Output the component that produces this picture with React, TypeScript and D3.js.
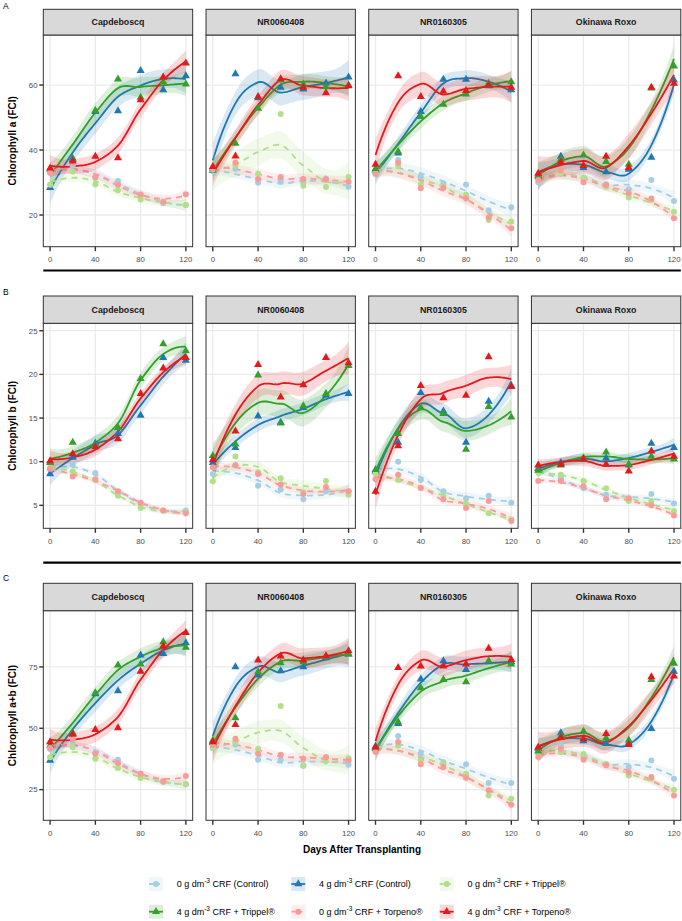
import React, { useEffect, useRef } from "react";
import * as d3 from "d3";

// sampling days and facets
const days = [0, 20, 40, 60, 80, 100, 120];
const cultivars = ["Capdeboscq", "NR0060408", "NR0160305", "Okinawa Roxo"];
const xTicks = [0, 40, 80, 120];

// treatments: [before superscript, after superscript]
const treatmentLabels = [
  ["0 g dm", " CRF (Control)"],
  ["4 g dm", " CRF (Control)"],
  ["0 g dm", " CRF + Trippel®"],
  ["4 g dm", " CRF + Trippel®"],
  ["0 g dm", " CRF + Torpeno®"],
  ["4 g dm", " CRF + Torpeno®"],
];
const treatmentColors = ["#a6cee3", "#1f78b4", "#b2df8a", "#33a02c", "#fb9a99", "#e31a1c"];
const treatmentDose = [0, 4, 0, 4, 0, 4];

// chlorophyll a, one row per cultivar
const chlA_0gControl = [
  [33.0, 35.2, 31.5, 30.5, 26.0, 23.6, 23.1],
  [33.5, 34.2, 29.9, 30.2, 30.0, 31.2, 28.7],
  [32.8, 36.9, 31.8, 29.7, 29.4, 21.5, 22.4],
  [30.0, 33.5, 31.3, 29.5, 27.9, 30.8, 24.3],
];
const chlA_4gControl = [
  [28.4, 37.4, 51.8, 52.0, 64.4, 58.5, 62.8],
  [33.7, 63.4, 56.0, 59.3, 58.7, 60.6, 62.4],
  [33.8, 39.0, 51.8, 61.7, 61.7, 59.7, 58.5],
  [32.3, 38.0, 34.6, 33.3, 34.0, 37.7, 61.5],
];
const chlA_0gTrippel = [
  [29.3, 33.4, 29.4, 27.6, 24.8, 24.0, 23.1],
  [34.0, 35.3, 32.7, 51.1, 29.0, 28.6, 31.7],
  [33.3, 35.0, 29.5, 28.9, 26.2, 18.5, 18.0],
  [31.3, 32.8, 31.5, 28.7, 25.4, 24.6, 21.0],
];
const chlA_4gTrippel = [
  [34.0, 37.0, 52.1, 61.8, 56.2, 61.0, 60.3],
  [34.4, 42.0, 52.8, 61.5, 60.3, 59.5, 60.0],
  [34.2, 39.5, 50.3, 54.0, 57.2, 60.5, 61.0],
  [31.8, 37.1, 38.4, 36.4, 35.6, 59.0, 65.8],
];
const chlA_0gTorpeno = [
  [33.0, 36.0, 31.7, 29.3, 26.3, 24.1, 26.4],
  [34.3, 36.2, 31.1, 31.7, 31.1, 30.9, 30.2],
  [32.6, 36.1, 28.2, 28.4, 25.1, 19.2, 15.9],
  [30.8, 33.8, 30.1, 29.2, 26.7, 25.1, 19.0],
];
const chlA_4gTorpeno = [
  [34.4, 36.6, 38.0, 37.6, 55.4, 62.4, 66.7],
  [34.9, 38.1, 56.4, 61.9, 59.3, 57.6, 59.7],
  [35.6, 62.8, 56.4, 58.0, 58.3, 60.0, 59.3],
  [32.8, 36.3, 35.2, 38.0, 34.6, 59.3, 60.5],
];

// chlorophyll b
const chlB_0gControl = [
  [9.1, 9.65, 8.7, 6.5, 5.2, 4.4, 4.4],
  [8.6, 9.6, 7.25, 6.8, 5.7, 6.6, 6.6],
  [8.8, 10.0, 7.9, 6.6, 5.8, 6.1, 5.3],
  [9.0, 8.1, 6.95, 6.2, 5.7, 6.3, 5.2],
];
const chlB_4gControl = [
  [8.6, 10.5, 12.1, 13.2, 15.3, 21.9, 21.6],
  [9.9, 11.6, 15.2, 14.5, 16.2, 17.6, 17.8],
  [8.9, 12.2, 17.9, 15.8, 12.2, 16.9, 18.7],
  [9.2, 9.9, 10.3, 10.4, 9.6, 12.1, 11.6],
];
const chlB_0gTrippel = [
  [9.3, 8.9, 7.9, 6.1, 4.7, 4.4, 4.2],
  [7.75, 10.6, 8.8, 8.1, 6.5, 7.8, 6.2],
  [8.6, 7.9, 7.0, 6.1, 5.2, 4.1, 3.4],
  [8.7, 8.5, 7.8, 6.95, 5.5, 5.5, 4.35],
];
const chlB_4gTrippel = [
  [9.9, 12.2, 11.9, 13.9, 19.5, 23.5, 22.7],
  [10.7, 12.0, 19.9, 14.4, 16.4, 17.8, 21.0],
  [9.1, 13.2, 16.2, 15.5, 11.4, 16.3, 15.1],
  [9.0, 9.6, 10.4, 11.1, 9.7, 10.6, 10.3],
];
const chlB_0gTorpeno = [
  [9.2, 8.3, 8.0, 6.6, 5.3, 4.4, 4.1],
  [9.35, 9.6, 8.6, 7.4, 6.3, 7.1, 6.6],
  [8.0, 8.5, 7.0, 5.7, 4.7, 5.5, 3.2],
  [7.8, 7.8, 7.2, 5.7, 5.8, 5.0, 3.85],
];
const chlB_4gTorpeno = [
  [10.1, 10.9, 11.7, 12.6, 17.8, 20.7, 21.9],
  [10.2, 13.5, 21.1, 17.4, 18.8, 21.9, 21.3],
  [6.6, 11.8, 18.7, 17.3, 17.6, 22.0, 18.6],
  [9.6, 9.7, 10.3, 9.7, 8.9, 11.2, 10.6],
];

// chlorophyll a+b
const chlAB_0gControl = [
  [41.6, 44.3, 40.0, 37.2, 30.8, 28.1, 27.2],
  [41.9, 43.4, 37.2, 37.2, 34.9, 38.2, 35.1],
  [41.5, 46.8, 39.6, 36.2, 35.3, 27.7, 27.7],
  [39.6, 43.0, 38.3, 35.3, 34.2, 36.9, 29.4],
];
const chlAB_4gControl = [
  [36.9, 47.8, 64.0, 65.2, 79.8, 80.4, 84.8],
  [44.0, 75.0, 71.6, 73.4, 75.0, 78.7, 80.2],
  [42.6, 51.9, 70.0, 77.4, 73.9, 77.0, 77.0],
  [41.7, 48.1, 44.8, 43.7, 44.0, 49.8, 73.2],
];
const chlAB_0gTrippel = [
  [38.2, 42.3, 37.6, 33.8, 29.7, 28.2, 27.2],
  [42.3, 44.3, 41.5, 59.1, 34.6, 36.5, 37.8],
  [41.0, 43.0, 36.9, 35.3, 31.5, 22.6, 21.3],
  [40.3, 40.3, 39.4, 35.3, 30.8, 29.4, 24.9],
];
const chlAB_4gTrippel = [
  [43.0, 48.1, 64.4, 75.7, 76.1, 85.2, 82.9],
  [45.0, 54.2, 73.0, 76.6, 77.0, 79.1, 80.2],
  [41.7, 52.6, 66.4, 69.8, 68.9, 77.4, 76.1],
  [40.7, 46.7, 48.7, 46.0, 45.1, 69.8, 76.4],
];
const chlAB_0gTorpeno = [
  [42.0, 45.4, 39.6, 35.8, 31.5, 28.4, 30.5],
  [43.2, 45.7, 39.6, 39.2, 37.6, 38.2, 36.9],
  [40.3, 44.4, 35.3, 34.2, 29.8, 24.7, 18.8],
  [38.3, 41.7, 37.2, 34.9, 32.1, 30.1, 22.6],
];
const chlAB_4gTorpeno = [
  [44.4, 47.5, 49.4, 50.1, 73.2, 83.4, 88.9],
  [44.4, 51.5, 77.7, 79.4, 77.7, 79.5, 81.5],
  [42.3, 74.7, 75.3, 75.3, 76.1, 82.5, 78.0],
  [42.3, 46.2, 45.7, 47.8, 43.3, 70.9, 71.2],
];

const panels = [
  {
    tag: "A", title: "Chlorophyll a (FCI)",
    series: [chlA_0gControl, chlA_4gControl, chlA_0gTrippel, chlA_4gTrippel, chlA_0gTorpeno, chlA_4gTorpeno],
    domain: [10.25, 75.4], yTicks: [20, 40, 60],
    tagY: 8.5, stripTop: 9.3, plotTop: 35, plotBottom: 246.7, ruleY: 270.5,
  },
  {
    tag: "B", title: "Chlorophyll b (FCI)",
    series: [chlB_0gControl, chlB_4gControl, chlB_0gTrippel, chlB_4gTrippel, chlB_0gTorpeno, chlB_4gTorpeno],
    domain: [2.37, 25.85], yTicks: [5, 10, 15, 20, 25],
    tagY: 295, stripTop: 296, plotTop: 323.3, plotBottom: 528.3, ruleY: 562.7,
  },
  {
    tag: "C", title: "Chlorophyll a+b (FCI)",
    series: [chlAB_0gControl, chlAB_4gControl, chlAB_0gTrippel, chlAB_4gTrippel, chlAB_0gTorpeno, chlAB_4gTorpeno],
    domain: [12.5, 97.9], yTicks: [25, 50, 75],
    tagY: 580.7, stripTop: 583.3, plotTop: 610.7, plotBottom: 820.3, ruleY: null,
  },
];

// ---- loess (span 0.75, degree 2, kd-tree vertices + hermite, like R) ----
// the plotted points are means of replicates; the smoother is fitted as if
// each mean stood for REPS plants, with a small within-plant spread.
const SPAN = 0.75;
const REPS = 4;
const WITHIN_CV = 0.06;

function invert(A: number[][]) {
  const n = A.length;
  const M = A.map((r, i) => [...r, ...r.map((_, j) => (i === j ? 1 : 0))]);
  for (let c = 0; c < n; c++) {
    let p = c;
    for (let r = c + 1; r < n; r++) if (Math.abs(M[r][c]) > Math.abs(M[p][c])) p = r;
    [M[c], M[p]] = [M[p], M[c]];
    const d = M[c][c];
    for (let j = 0; j < 2 * n; j++) M[c][j] /= d;
    for (let r = 0; r < n; r++) {
      if (r === c) continue;
      const f = M[r][c];
      for (let j = 0; j < 2 * n; j++) M[r][j] -= f * M[c][j];
    }
  }
  return M.map((r) => r.slice(n));
}

function localOperator(xs: number[], x0: number) {
  const n = xs.length;
  const q = Math.floor(n * SPAN);
  const dist = xs.map((x) => Math.abs(x - x0));
  const h = [...dist].sort((a, b) => a - b)[q - 1];
  const w = dist.map((d) => (d < h ? (1 - (d / h) ** 3) ** 3 : 0));
  const u = xs.map((x) => (x - x0) / h);
  const A = [[0, 0, 0], [0, 0, 0], [0, 0, 0]];
  xs.forEach((_, i) => {
    const b = [1, u[i], u[i] * u[i]];
    for (let a = 0; a < 3; a++) for (let c = 0; c < 3; c++) A[a][c] += w[i] * b[a] * b[c];
  });
  const inv = invert(A);
  const val = xs.map((_, i) => w[i] * (inv[0][0] + inv[0][1] * u[i] + inv[0][2] * u[i] * u[i]));
  const slope = xs.map((_, i) => (w[i] * (inv[1][0] + inv[1][1] * u[i] + inv[1][2] * u[i] * u[i])) / h);
  return { val, slope };
}

function kdVertices(xs: number[]) {
  const s = [...xs].sort((a, b) => a - b);
  const n = s.length;
  const lo = s[0], hi = s[n - 1];
  const mu = 0.005 * Math.max(hi - lo, 1e-10 * Math.max(Math.abs(lo), Math.abs(hi)) + 1e-30);
  const out = [lo - mu, hi + mu];
  const fc = Math.floor(n * SPAN * 0.2);
  const rec = (l: number, u: number, vlo: number, vhi: number) => {
    if (u - l + 1 <= fc) return;
    let m = Math.floor((l + u) / 2);
    let offset = 0;
    while (m + offset < u && m + offset >= l) {
      if (s[m + offset - 1] === s[m + offset]) {
        offset = -offset;
        if (offset >= 0) offset += 1;
      } else {
        m = m + offset;
        break;
      }
    }
    const v = s[m - 1];
    if (v === vlo || v === vhi) return;
    out.push(v);
    rec(l, m, vlo, v);
    rec(m + 1, u, v, vhi);
  };
  rec(1, n, lo - mu, hi + mu);
  return Array.from(new Set(out)).sort((a, b) => a - b);
}

function lgamma(z: number): number {
  const c = [0.99999999999980993, 676.5203681218851, -1259.1392167224028, 771.32342877765313,
    -176.61502916214059, 12.507343278686905, -0.13857109526572012, 9.9843695780195716e-6, 1.5056327351493116e-7];
  if (z < 0.5) return Math.log(Math.PI / Math.sin(Math.PI * z)) - lgamma(1 - z);
  z -= 1;
  let x = c[0];
  for (let i = 1; i < 9; i++) x += c[i] / (z + i);
  const t = z + 7.5;
  return 0.5 * Math.log(2 * Math.PI) + (z + 0.5) * Math.log(t) - t + Math.log(x);
}

function qt975(df: number) {
  const k = Math.exp(lgamma((df + 1) / 2) - lgamma(df / 2)) / Math.sqrt(df * Math.PI);
  const f = (u: number) => k * Math.pow(1 + (u * u) / df, -(df + 1) / 2);
  let acc = 0, u = 0;
  const du = 0.002;
  while (acc < 0.475 && u < 40) {
    acc += (du * (f(u) + 4 * f(u + du / 2) + f(u + du))) / 6;
    u += du;
  }
  return u;
}

function loessSmooth(dayMeans: number[]) {
  const X = days.flatMap((x) => d3.range(REPS).map(() => x));
  const Y = dayMeans.flatMap((y) => d3.range(REPS).map(() => y));
  const N = X.length;
  const verts = kdVertices(X);
  const ops = verts.map((v) => localOperator(X, v));
  const row = (x: number) => {
    let k = 0;
    while (k < verts.length - 2 && x > verts[k + 1]) k++;
    const hh = verts[k + 1] - verts[k];
    const t = (x - verts[k]) / hh;
    const h00 = 2 * t ** 3 - 3 * t ** 2 + 1, h10 = t ** 3 - 2 * t ** 2 + t;
    const h01 = -2 * t ** 3 + 3 * t ** 2, h11 = t ** 3 - t ** 2;
    return X.map((_, j) => h00 * ops[k].val[j] + h10 * hh * ops[k].slope[j] + h01 * ops[k + 1].val[j] + h11 * hh * ops[k + 1].slope[j]);
  };
  const L = X.map((x) => row(x));
  const fitted = L.map((r) => d3.sum(r, (l, j) => l * Y[j]));
  const within = (WITHIN_CV * d3.mean(dayMeans)!) ** 2 * (N - days.length);
  const rss = d3.sum(Y, (y, i) => (y - fitted[i]) ** 2) + within;
  const IL = L.map((r, i) => r.map((l, j) => (i === j ? 1 : 0) - l));
  const M = IL.map((_, i) => IL.map((_, j) => d3.sum(IL, (r) => r[i] * r[j])));
  const delta1 = d3.sum(M, (r, i) => r[i]);
  const delta2 = d3.sum(M, (r) => d3.sum(r, (v) => v * v));
  const s = Math.sqrt(rss / delta1);
  const tq = qt975(Math.max((delta1 * delta1) / delta2, 1));
  const grid = d3.range(80).map((i) => days[0] + ((days[days.length - 1] - days[0]) * i) / 79);
  return grid.map((x) => {
    const r = row(x);
    const fit = d3.sum(r, (l, j) => l * Y[j]);
    const se = s * Math.sqrt(d3.sum(r, (l) => l * l));
    return { x, fit, lo: fit - tq * se, hi: fit + tq * se };
  });
}

// ---- drawing ----
const W = 682, H = 921;
const FONT = "'Liberation Sans', Arial, Helvetica, sans-serif";

function drawShape(g: any, dose: number, cx: number, cy: number, color: string) {
  if (dose === 0) {
    g.append("circle").attr("cx", cx).attr("cy", cy).attr("r", 3).attr("fill", color);
  } else {
    const r = 3 * 1.555, xc = 3 * 1.347, yc = 3 * 0.778;
    g.append("path")
      .attr("d", `M${cx},${cy - r}L${cx + xc},${cy + yc}L${cx - xc},${cy + yc}Z`)
      .attr("fill", color);
  }
}

export default function App() {
  const ref = useRef<SVGSVGElement | null>(null);

  useEffect(() => {
    document.body.style.margin = "0";
    const svg = d3.select(ref.current);
    svg.selectAll("*").remove();
    svg.append("rect").attr("width", W).attr("height", H).attr("fill", "#fff");

    const facetX = d3.scaleBand().domain(cultivars).range([43.3, 680.8]).paddingInner(0.082);

    panels.forEach((p, pi) => {
      const y = d3.scaleLinear().domain(p.domain).range([p.plotBottom, p.plotTop]);
      const pg = svg.append("g");

      pg.append("text").attr("x", 3).attr("y", p.tagY).attr("font-family", FONT)
        .attr("font-size", 8.5).text(p.tag);

      // y axis title
      pg.append("text")
        .attr("transform", `translate(16,${(p.plotTop + p.plotBottom) / 2}) rotate(-90)`)
        .attr("text-anchor", "middle").attr("font-family", FONT).attr("font-weight", "bold")
        .attr("font-size", 10).text(p.title);

      // y ticks
      p.yTicks.forEach((t) => {
        pg.append("line").attr("x1", 39.3).attr("x2", 43.3).attr("y1", y(t)).attr("y2", y(t))
          .attr("stroke", "#333").attr("stroke-width", 1.4);
        pg.append("text").attr("x", 37.5).attr("y", y(t) + 2.8).attr("text-anchor", "end")
          .attr("font-family", FONT).attr("font-size", 7.8).attr("fill", "#4d4d4d").text(t);
      });

      cultivars.forEach((cv, ci) => {
        const x0 = facetX(cv)!;
        const bw = facetX.bandwidth();
        const x = d3.scaleLinear().domain([-6, 126]).range([x0, x0 + bw]);
        const fg = pg.append("g");
        const clipId = `clip-${pi}-${ci}`;
        fg.append("clipPath").attr("id", clipId).append("rect")
          .attr("x", x0).attr("y", p.plotTop).attr("width", bw).attr("height", p.plotBottom - p.plotTop);

        // grid
        xTicks.forEach((t) => {
          fg.append("line").attr("x1", x(t)).attr("x2", x(t)).attr("y1", p.plotTop).attr("y2", p.plotBottom)
            .attr("stroke", "#ebebeb").attr("stroke-width", 1.3);
        });
        p.yTicks.forEach((t) => {
          fg.append("line").attr("x1", x0).attr("x2", x0 + bw).attr("y1", y(t)).attr("y2", y(t))
            .attr("stroke", "#ebebeb").attr("stroke-width", 1.3);
        });

        const plot = fg.append("g").attr("clip-path", `url(#${clipId})`);
        const smooths = p.series.map((s) => loessSmooth(s[ci]));

        smooths.forEach((sm, si) => {
          const col = treatmentColors[si];
          plot.append("path").datum(sm)
            .attr("d", d3.area<any>().x((d) => x(d.x)).y0((d) => y(d.lo)).y1((d) => y(d.hi)))
            .attr("fill", col).attr("fill-opacity", 0.17);
          plot.append("path").datum(sm)
            .attr("d", d3.line<any>().x((d) => x(d.x)).y((d) => y(d.fit)))
            .attr("fill", "none").attr("stroke", col).attr("stroke-width", 1.8)
            .attr("stroke-dasharray", treatmentDose[si] === 0 ? "6,5" : null);
        });

        p.series.forEach((s, si) => {
          s[ci].forEach((v, di) => drawShape(plot, treatmentDose[si], x(days[di]), y(v), treatmentColors[si]));
        });

        // panel border
        fg.append("rect").attr("x", x0).attr("y", p.plotTop).attr("width", bw)
          .attr("height", p.plotBottom - p.plotTop).attr("fill", "none").attr("stroke", "#333").attr("stroke-width", 1);

        // strip
        fg.append("rect").attr("x", x0).attr("y", p.stripTop).attr("width", bw)
          .attr("height", p.plotTop - p.stripTop).attr("fill", "#d9d9d9").attr("stroke", "#333").attr("stroke-width", 1);
        fg.append("text").attr("x", x0 + bw / 2).attr("y", (p.stripTop + p.plotTop) / 2 + 3.2)
          .attr("text-anchor", "middle").attr("font-family", FONT).attr("font-weight", "bold")
          .attr("font-size", 8.8).attr("fill", "#1a1a1a").text(cv);

        // x ticks
        xTicks.forEach((t) => {
          fg.append("line").attr("x1", x(t)).attr("x2", x(t)).attr("y1", p.plotBottom).attr("y2", p.plotBottom + 4.5)
            .attr("stroke", "#333").attr("stroke-width", 1.4);
          fg.append("text").attr("x", x(t)).attr("y", p.plotBottom + 15.5).attr("text-anchor", "middle")
            .attr("font-family", FONT).attr("font-size", 7.8).attr("fill", "#4d4d4d").text(t);
        });
      });

      if (p.ruleY !== null) {
        pg.append("line").attr("x1", 43.3).attr("x2", 680.8).attr("y1", p.ruleY).attr("y2", p.ruleY)
          .attr("stroke", "#000").attr("stroke-width", 2.2);
      }
    });

    svg.append("text").attr("x", (43.3 + 680.8) / 2).attr("y", 852.5).attr("text-anchor", "middle")
      .attr("font-family", FONT).attr("font-weight", "bold").attr("font-size", 10).text("Days After Transplanting");

    // legend
    const keyX = [156, 298.3, 446.7];
    const rowY = [884, 911.7];
    treatmentLabels.forEach((lab, i) => {
      const cx = keyX[i % 3], cy = rowY[Math.floor(i / 3)];
      const col = treatmentColors[i];
      const lg = svg.append("g");
      lg.append("rect").attr("x", cx - 7).attr("y", cy - 7).attr("width", 14).attr("height", 14)
        .attr("fill", col).attr("fill-opacity", 0.17);
      lg.append("line").attr("x1", cx - 7).attr("x2", cx + 7).attr("y1", cy).attr("y2", cy)
        .attr("stroke", col).attr("stroke-width", 1.8)
        .attr("stroke-dasharray", treatmentDose[i] === 0 ? "4,3" : null);
      drawShape(lg, treatmentDose[i], cx, cy, col);
      const t = lg.append("text").attr("x", cx + 20.7).attr("y", cy + 3.2)
        .attr("font-family", FONT).attr("font-size", 9);
      t.append("tspan").text(lab[0]);
      t.append("tspan").attr("dy", -4).attr("font-size", 6.5).text("-3");
      t.append("tspan").attr("dy", 4).text(lab[1]);
    });
  }, []);

  return <svg ref={ref} width={W} height={H} style={{ display: "block" }} />;
}
